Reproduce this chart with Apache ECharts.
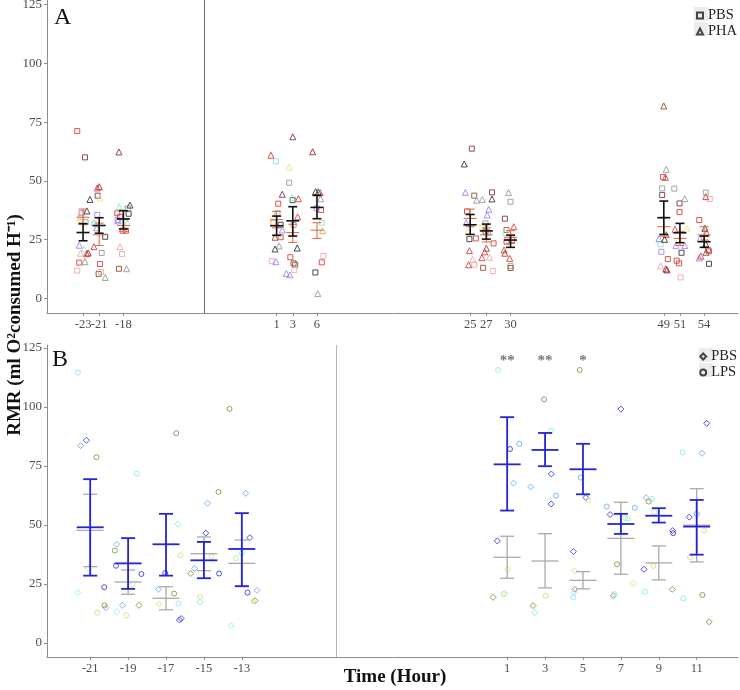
<!DOCTYPE html>
<html><head><meta charset="utf-8">
<script src="https://cdn.jsdelivr.net/npm/echarts@6/dist/echarts.min.js"></script>
<style>html,body{margin:0;padding:0;background:#fff}#c{width:740px;height:690px}</style>
</head><body><div id="c"></div>
<script>
// ---------- Panel A data ----------
const aPalette = ['#d8423f','#9c2a2a','#3a3a3a','#9a9a9a','#f2a5ad','#9d86ec','#7d3560','#8fe6cf','#f3e27c','#e8a85a','#8e5230'];
const aTicks = [-23,-21,-18,1,3,6,25,27,30,49,51,54];
const aTimes = [-23,-21,-18,1,3,6,25,27,30,49,51,54];
const aBlackMean = [28.0,31.0,33.8,30.9,33.0,38.7,31.3,28.7,24.8,34.3,27.9,24.1];
const aBlackLow  = [24.5,27.7,29.5,26.8,26.5,33.9,27.2,25.2,21.7,27.2,23.7,21.7];
const aBlackHigh = [31.8,34.3,37.3,35.0,39.0,43.8,35.7,31.6,26.9,41.4,31.9,26.5];
const aRedMean = [34.5,27.0,31.0,33.5,28.0,29.0,34.0,27.0,26.0,30.5,25.5,27.0];
const aRedLow  = [31.5,22.5,28.5,30.0,23.8,25.5,30.5,24.0,23.4,26.5,22.5,24.8];
const aRedHigh = [38.0,32.0,33.5,37.0,31.5,32.2,38.0,30.0,28.8,34.5,28.5,30.5];
// [time (jittered), RMR, colour index]
const aPbsPoints = [
 [-23.72,71.2,0],[-22.76,60,6],[-23.17,36.2,5],[-23.3,34.5,9],[-22.68,32.4,3],[-23.47,15.2,0],[-23.72,11.8,4],
 [-21.19,43.7,6],[-21.24,35.5,5],[-21.6,31.5,7],[-20.25,26.2,2],[-20.69,19.3,3],[-20.9,14.6,0],[-21.07,10.4,10],[-20.78,11.2,4],
 [-17.47,38.3,3],[-17.35,36,2],[-18.76,36.2,0],[-18.71,33.3,5],[-18.43,34.7,0],[-18.09,28.8,0],[-17.68,28.8,0],[-18.18,18.9,4],[-18.55,12.6,10],
 [0.9,58.3,7],[1.2,40.3,0],[1.1,36.2,3],[0.6,32.2,9],[1.5,31.3,2],[1.5,26,0],[0.4,15.8,4],
 [2.56,49.2,3],[2.98,41.8,2],[3.1,31.2,3],[2.7,17.5,0],[3.1,14.9,10],[3.3,14.3,10],[3.2,12,4],
 [6.5,37.6,0],[5.96,38.3,5],[6.6,32.2,7],[6.8,18,4],[6.6,15.3,0],[5.8,11,2],
 [25.2,63.7,6],[25.5,43.7,10],[24.6,37,0],[24.9,25.2,2],[25.7,25.5,0],[25.5,14.3,4],
 [27.7,45.1,6],[26.9,31.9,3],[26.5,30.2,8],[26.9,28.4,10],[27.2,28,3],[27.9,23.4,0],[26.6,13,10],[27.8,11.6,4],
 [30,41.1,3],[29.3,33.9,6],[29.5,29.1,0],[29.4,27.7,7],[29.5,24.1,0],[30.2,24.8,0],[30,13.7,3],[30,12.9,10],
 [48.9,51.6,0],[48.8,46.8,3],[48.8,44,6],[48.6,23,7],[48.7,19.8,5],[49.5,16.7,0],
 [50.3,46.7,3],[50.95,40.4,6],[50.95,36.7,0],[51.2,19.4,2],[50.6,16,0],[50.9,14.9,0],[51.1,8.9,4],
 [54.2,45,3],[54.7,42.3,4],[53.4,33.3,0],[54.5,20.6,0],[54.6,20,0],[54.6,14.7,2]
];
const aPhaPoints = [
 [-22.15,42.1,2],[-22.52,37.2,2],[-23.47,22.6,5],[-22.85,21.1,7],[-23.3,19.2,4],[-22.55,19,0],[-22.36,19.3,1],[-22.76,15.6,3],[-23.4,33.5,8],
 [-21.24,47,0],[-20.99,47.5,1],[-20.9,42.7,8],[-21.65,32.3,7],[-21.31,30,5],[-21.65,22,0],[-20.25,8.9,3],
 [-18.55,62.3,6],[-18.51,39,7],[-17.19,39.7,2],[-17.52,32.2,7],[-18.43,22,4],[-17.6,12.6,3],[-18.7,33,5],
 [0.29,60.9,0],[1.7,44.3,6],[1.7,29.1,5],[0.8,26,10],[1.3,22.3,3],[0.8,21,2],[0.9,15.6,5],
 [3.0,68.8,6],[2.56,55.8,8],[3.7,42.4,0],[2.9,42.8,7],[3.6,34.7,0],[3.55,21.4,2],[2.2,10.6,5],[2.65,10,5],
 [5.46,62.4,1],[5.83,45.4,2],[6.16,45.3,2],[6.4,45,0],[6.45,42.4,3],[6.7,28.8,9],[6.1,2,3],
 [24.26,57.2,2],[24.4,45.1,5],[25.8,41.8,3],[26.5,42.1,3],[24.5,32.2,5],[24.7,28.4,8],[24.9,20.3,0],[25.3,16.6,4],[24.8,14.3,0],
 [27.7,42.3,2],[27.3,37.9,5],[27.1,35.5,5],[27,21.3,10],[26.8,19.8,0],[26.45,17.3,0],[27.4,17.5,4],
 [29.75,45,3],[30.4,30.5,0],[29.2,20.6,0],[29.3,19.2,10],[29.9,17,0],
 [49,81.9,10],[49.3,54.9,3],[49.2,51.5,0],[48.4,25.4,5],[49.3,27.1,0],[49.1,25.1,2],[48.6,13.8,4],[49.4,12.1,1],[49.25,12.5,1],
 [51.6,42.4,3],[50.4,29.4,0],[51.9,29.8,8],[50.5,22.4,5],[51.6,22.5,5],
 [54.2,43.3,0],[54.1,29.8,2],[54.3,27.9,0],[53.5,25.5,5],[54.2,23.1,2],[54.25,19.6,10],[53.4,17.2,5],[53.6,18,0]
];

// ---------- Panel B data ----------
const bPalette = ['#86ecf6','#72aef2','#3f3fe0','#958f45','#cfe383'];
const bTicks = [-21,-19,-17,-15,-13,1,3,5,7,9,11];
const bTimes = [-21,-19,-17,-15,-13,1,3,5,7,9,11];
const bLpsMean = [49.0,33.7,41.8,35.0,39.8,75.7,81.8,73.6,50.4,53.9,49.3];
const bLpsLow  = [28.5,22.9,28.5,27.4,24.0,56.1,74.9,63.0,46.2,51.0,37.4];
const bLpsHigh = [69.4,44.4,54.7,42.8,55.0,95.7,89.0,84.4,54.7,57.1,60.6];
const bPbsMean = [47.7,25.8,18.9,37.8,33.7,36.3,34.7,26.5,44.3,33.9,49.9];
const bPbsLow  = [32.3,20.6,14.0,30.6,24.1,27.4,23.3,22.9,29.1,26.7,34.3];
const bPbsHigh = [63.0,30.9,23.8,44.9,43.6,45.2,46.3,30.2,59.6,41.1,65.4];
const bPbsPoints = [
 [-21.2,85.9,2],[-21.5,83.6,1],[-21.65,21.3,0],[-20.17,14.9,1],[-21.1,31.6,4],
 [-19.6,41.8,1],[-18.43,15.9,3],[-19.6,13.2,0],[-18.75,24.8,4],[-19.3,15.9,1],
 [-16.29,9.7,2],[-16.2,10.3,2],[-17.4,22.7,1],[-17.36,16.5,4],[-16.37,50.3,0],
 [-14.9,46.5,2],[-14.81,59.2,1],[-15.7,29.4,3],[-15.2,17.3,0],[-15.5,31.5,1],
 [-12.58,44.6,2],[-12.8,63.4,1],[-12.3,17.9,3],[-13.56,7.3,0],[-12.2,22.3,1],
 [0.48,43.2,2],[1.33,67.7,1],[1.03,31.2,4],[0.26,19.3,3],[0.87,21,0],
 [3.33,71.6,2],[3.32,58.9,2],[2.24,66.1,1],[2.37,15.8,3],[2.45,12.8,0],
 [4.49,38.7,2],[5.15,61.6,2],[4.57,22.7,3],[4.53,21.5,0],[4.57,30.6,4],
 [7.0,99.1,2],[6.43,54.4,2],[6.6,20,3],[7.66,25.3,4],
 [8.22,31.2,2],[9.73,47.6,2],[9.71,22.7,3],[8.33,61.6,1],
 [11.53,93.1,2],[10.61,53.3,2],[11.66,8.9,3],[11.28,80.4,1]
];
const bLpsPoints = [
 [-21.65,114.6,0],[-20.67,78.7,3],[-20.26,23.6,2],[-20.25,15.9,3],[-20.63,12.8,4],
 [-19.7,39.1,3],[-19.64,32.7,2],[-18.54,71.8,0],[-18.3,29.2,2],[-19.1,11.7,4],
 [-16.46,88.9,3],[-16.24,37.1,4],[-17.04,29.6,2],[-16.57,20.9,3],[-16.34,16.6,0],
 [-14.23,64,3],[-14.6,36.6,4],[-14.2,29.4,2],[-15.2,19.5,4],
 [-13.65,99.2,3],[-13.3,35.9,4],[-13.0,38,0],[-12.7,21.3,2],[-12.4,17.6,4],
 [0.52,115.7,0],[1.15,82.2,2],[1.64,84.4,1],[0.8,20.6,4],
 [2.95,103.3,3],[3.32,89.9,0],[3.58,62.4,1],[3.03,20,4],
 [4.83,115.7,3],[4.88,70.1,1],[5.28,60.5,4],[4.49,19.3,0],
 [6.25,57.8,1],[7.36,52.7,0],[7.22,53,4],[7.73,57.3,1],[6.8,33.3,3],[6.64,20.7,0],
 [8.64,61,0],[8.47,59.9,3],[8.76,55.4,4],[9.76,46.5,2],[8.71,32.6,4],[8.27,21.7,0],
 [10.26,80.8,0],[11.0,54.7,1],[11.4,47.6,4],[10.65,36.3,4],[11.3,20.3,3],[10.3,18.9,0]
];
const starTimes = [1,3,5];
const starLabels = ['**','**','*'];
const starValue = 121.2;
const yTicks = [0,25,50,75,100,125];
const breakTime = -8;

// ---------- helpers ----------
const FONT = 'Liberation Serif';
function pts(list, pal) {
  return list.map(p => ({value:[p[0], p[1]], itemStyle:{borderColor: pal[p[2]]}}));
}
function bars(t, m, lo, hi) { return t.map((x,i)=>[x, m[i], lo[i], hi[i]]); }
function errRender(capHalf, barHalf, color, width) {
  return function(params, api) {
    const x = api.value(0), m = api.value(1), lo = api.value(2), hi = api.value(3);
    const pm = api.coord([x, m]), pl = api.coord([x, lo]), ph = api.coord([x, hi]);
    const style = {stroke: color, lineWidth: width};
    return {type:'group', children:[
      {type:'line', shape:{x1:pm[0], y1:pl[1], x2:pm[0], y2:ph[1]}, style},
      {type:'line', shape:{x1:pm[0]-capHalf, y1:pl[1], x2:pm[0]+capHalf, y2:pl[1]}, style},
      {type:'line', shape:{x1:pm[0]-capHalf, y1:ph[1], x2:pm[0]+capHalf, y2:ph[1]}, style},
      {type:'line', shape:{x1:pm[0]-barHalf, y1:pm[1], x2:pm[0]+barHalf, y2:pm[1]}, style}
    ]};
  };
}
function xAxisCfg(grid, min, max, ticks, labels, showLine) {
  return {type:'value', gridIndex:grid, position:'bottom', offset:0, min, max,
    axisLine:{show:showLine, onZero:false, lineStyle:{color:'#8c8c8c', width:1}},
    axisTick:{show:showLine, customValues:ticks, length:3, lineStyle:{color:'#8c8c8c'}},
    axisLabel:{customValues:labels, interval:0, color:'#4d4d4d', fontFamily:FONT, fontSize:12.5, margin:5, hideOverlap:false},
    splitLine:{show:false}};
}
function yAxisCfg(grid, min, max) {
  return {type:'value', gridIndex:grid, min, max,
    axisLine:{show:true, onZero:false, lineStyle:{color:'#8c8c8c', width:1}},
    axisTick:{show:true, customValues:yTicks, length:3, lineStyle:{color:'#8c8c8c'}},
    axisLabel:{customValues:yTicks, color:'#4d4d4d', fontFamily:FONT, fontSize:13, margin:5},
    splitLine:{show:false}};
}
function vline(color) {
  return {silent:true, symbol:['none','none'], label:{show:false}, animation:false,
    lineStyle:{color, width:1, type:'solid'}, data:[{xAxis:breakTime}]};
}
const hollow = {color:'rgba(0,0,0,0)', borderColor:'#333', borderWidth:1, opacity:0.9};
const legendText = {fontFamily:FONT, fontSize:14.5, color:'#222', padding:[0,0,0,0]};

const chart = echarts.init(document.getElementById('c'));
chart.setOption({
  animation:false,
  backgroundColor:'#fff',
  grid:[
    {left:47, top:-10, width:691, height:323, outerBoundsMode:'none'},
    {left:47, top:345, width:691, height:312, outerBoundsMode:'none'}
  ],
  xAxis:[
    xAxisCfg(0,-27.47,58.2,aTicks,aTicks.slice(1),true),
    xAxisCfg(1,-23.28,13.18,bTicks,bTicks,true),
    xAxisCfg(0,-27.47,58.2,aTicks,aTicks.slice(0,1),false)
  ],
  yAxis:[yAxisCfg(0,-6.25,131.25), yAxisCfg(1,-6,126.3)],
  legend:[
    {orient:'vertical', right:3, top:8, padding:0, itemWidth:6, itemHeight:6, itemGap:1,
     textStyle:legendText, data:[{name:'PBS', icon:'rect'},{name:'PHA', icon:'triangle'}]},
    {orient:'vertical', right:3, top:349, padding:0, itemWidth:6, itemHeight:6, itemGap:1,
     textStyle:legendText, data:[{name:'PBS', icon:'diamond'},{name:'LPS', icon:'circle'}]}
  ],
  graphic:[
    {type:'rect', left:694, top:7, z:-1, shape:{width:14, height:14}, style:{fill:'#ececec'}},
    {type:'rect', left:694, top:22, z:-1, shape:{width:14, height:14}, style:{fill:'#ececec'}},
    {type:'rect', left:699, top:348, z:-1, shape:{width:14, height:14}, style:{fill:'#ececec'}},
    {type:'rect', left:699, top:363, z:-1, shape:{width:14, height:14}, style:{fill:'#ececec'}},
    {type:'text', left:54, top:6, style:{text:'A', font:'24px "Liberation Serif"', fill:'#111'}},
    {type:'text', left:52, top:348, style:{text:'B', font:'24px "Liberation Serif"', fill:'#111'}},
    {type:'text', x:15, y:325, rotation:Math.PI/2,
     style:{text:'RMR (ml O²consumed H⁻¹)', font:'bold 19px "Liberation Serif"', fill:'#111', align:'center', verticalAlign:'middle'}},
    {type:'text', x:395, y:677, style:{text:'Time (Hour)', font:'bold 19px "Liberation Serif"', fill:'#111', align:'center', verticalAlign:'middle'}}
  ],
  series:[
    {name:'PBS', type:'scatter', xAxisIndex:0, yAxisIndex:0, symbol:'rect', symbolSize:5, itemStyle:hollow,
     data:pts(aPbsPoints, aPalette), markLine:vline('#707070'), z:2},
    {name:'PHA', type:'scatter', xAxisIndex:0, yAxisIndex:0, symbol:'triangle', symbolSize:6, itemStyle:hollow,
     data:pts(aPhaPoints, aPalette), z:2},
    {name:'PHA mean ± SE', type:'custom', xAxisIndex:0, yAxisIndex:0, renderItem:errRender(4.5,6.5,'#e0714f',1.1),
     data:bars(aTimes,aRedMean,aRedLow,aRedHigh), encode:{x:0,y:1}, z:3},
    {name:'PBS mean ± SE', type:'custom', xAxisIndex:0, yAxisIndex:0, renderItem:errRender(4.5,6.5,'#111',1.6),
     data:bars(aTimes,aBlackMean,aBlackLow,aBlackHigh), encode:{x:0,y:1}, z:4},
    {name:'PBS', type:'scatter', xAxisIndex:1, yAxisIndex:1, symbol:'diamond', symbolSize:6, itemStyle:hollow,
     data:pts(bPbsPoints, bPalette), markLine:vline('#b5b5b5'), z:2},
    {name:'LPS', type:'scatter', xAxisIndex:1, yAxisIndex:1, symbol:'circle', symbolSize:5, itemStyle:hollow,
     data:pts(bLpsPoints, bPalette), z:2},
    {name:'PBS mean ± SE (B)', type:'custom', xAxisIndex:1, yAxisIndex:1, renderItem:errRender(7,13.5,'#aaaaaa',1.3),
     data:bars(bTimes,bPbsMean,bPbsLow,bPbsHigh), encode:{x:0,y:1}, z:3},
    {name:'LPS mean ± SE', type:'custom', xAxisIndex:1, yAxisIndex:1, renderItem:errRender(7,13.5,'#2424d0',1.8),
     data:bars(bTimes,bLpsMean,bLpsLow,bLpsHigh), encode:{x:0,y:1}, z:4},
    {name:'signif', type:'scatter', xAxisIndex:1, yAxisIndex:1, symbolSize:1, itemStyle:{color:'rgba(0,0,0,0)'},
     data:starTimes.map(t=>[t, starValue]),
     label:{show:true, position:'inside', offset:[0,4], formatter:p=>starLabels[p.dataIndex], color:'#555', fontFamily:FONT, fontSize:15, fontWeight:'bold'}, z:5}
  ]
});
</script></body></html>
